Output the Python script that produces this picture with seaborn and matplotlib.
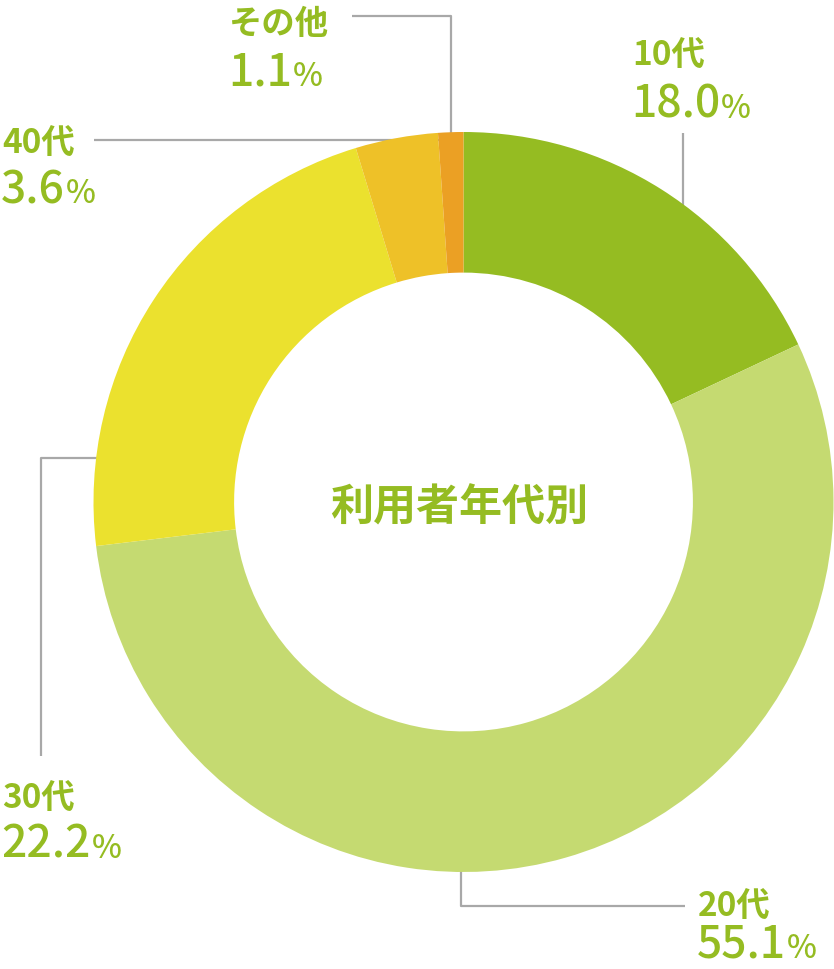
import matplotlib
matplotlib.use("Agg")
import matplotlib.pyplot as plt
import seaborn as sns

# ---- data ----
categories = ["10代", "20代", "30代", "40代", "その他"]
shares = [18.0, 55.1, 22.2, 3.6, 1.1]
pct_labels = ["18.0", "55.1", "22.2", "3.6", "1.1"]
colors = ["#95BC22", "#C5DA71", "#EBE12E", "#EEC128", "#EBA024"]
center_title = "利用者年代別"

sns.set_theme(style="white")
plt.rcParams["font.family"] = ["Noto Sans CJK JP", "DejaVu Sans"]

W, H = 834, 970
fig = plt.figure(figsize=(W / 100, H / 100), dpi=100)
ax = fig.add_axes([0, 0, 1, 1])


def Y(y):
    return H - y


cx, cy, R = 463.5, 503, 370
ax.pie(shares, colors=colors, startangle=90, counterclock=False,
       center=(cx, Y(cy)), radius=R, frame=True,
       wedgeprops=dict(width=R * 0.38, linewidth=0, zorder=3))
ax.set_xlim(0, W)
ax.set_ylim(0, H)
ax.set_aspect("equal")
ax.axis("off")

green = "#95BC22"
line_c = "#A8A8A8"
lw = 1.6

# leader lines (pixel coords)
leaders = {
    "10代": [(683, 134), (683, 206)],
    "20代": [(461, 872), (461, 907), (685, 907)],
    "30代": [(97, 459), (41, 459), (41, 757)],
    "40代": [(94, 141), (445, 141)],
    "その他": [(352, 17), (451, 17), (451, 134)],
}
for pts in leaders.values():
    ax.plot([p[0] for p in pts], [Y(p[1]) for p in pts], color=line_c,
            lw=lw, solid_capstyle="butt", zorder=1)

# label positions: (x, baseline of name, baseline of percent)
label_pos = {
    "10代": (632, 65, 118),
    "20代": (698, 916, 958),
    "30代": (2, 808, 858),
    "40代": (2, 153, 203),
    "その他": (229, 34, 86),
}

name_font = ["Noto Sans CJK JP", "DejaVu Sans"]

num_texts = []
for cat, pl in zip(categories, pct_labels):
    x, yb1, yb2 = label_pos[cat]
    ax.text(x, Y(yb1), cat, family=name_font, fontweight="bold", fontsize=24,
            color=green, ha="left", va="baseline", zorder=5)
    t = ax.text(x - 1, Y(yb2), pl, family=name_font, fontweight="medium",
                fontsize=32, color=green, ha="left", va="baseline", zorder=5)
    num_texts.append((t, yb2))

fig.canvas.draw()
renderer = fig.canvas.get_renderer()
inv = ax.transData.inverted()
for t, yb2 in num_texts:
    bb = t.get_window_extent(renderer)
    xr, _ = inv.transform((bb.x1, bb.y0))
    ax.text(xr + 1, Y(yb2), "%", family=name_font, fontweight="medium",
            fontsize=23, color=green, ha="left", va="baseline", zorder=5)

ax.text(459, Y(508), center_title, family=name_font, fontweight="bold",
        fontsize=31, color=green, ha="center", va="center", zorder=5)

fig.savefig("out.png", dpi=100, facecolor="white")
